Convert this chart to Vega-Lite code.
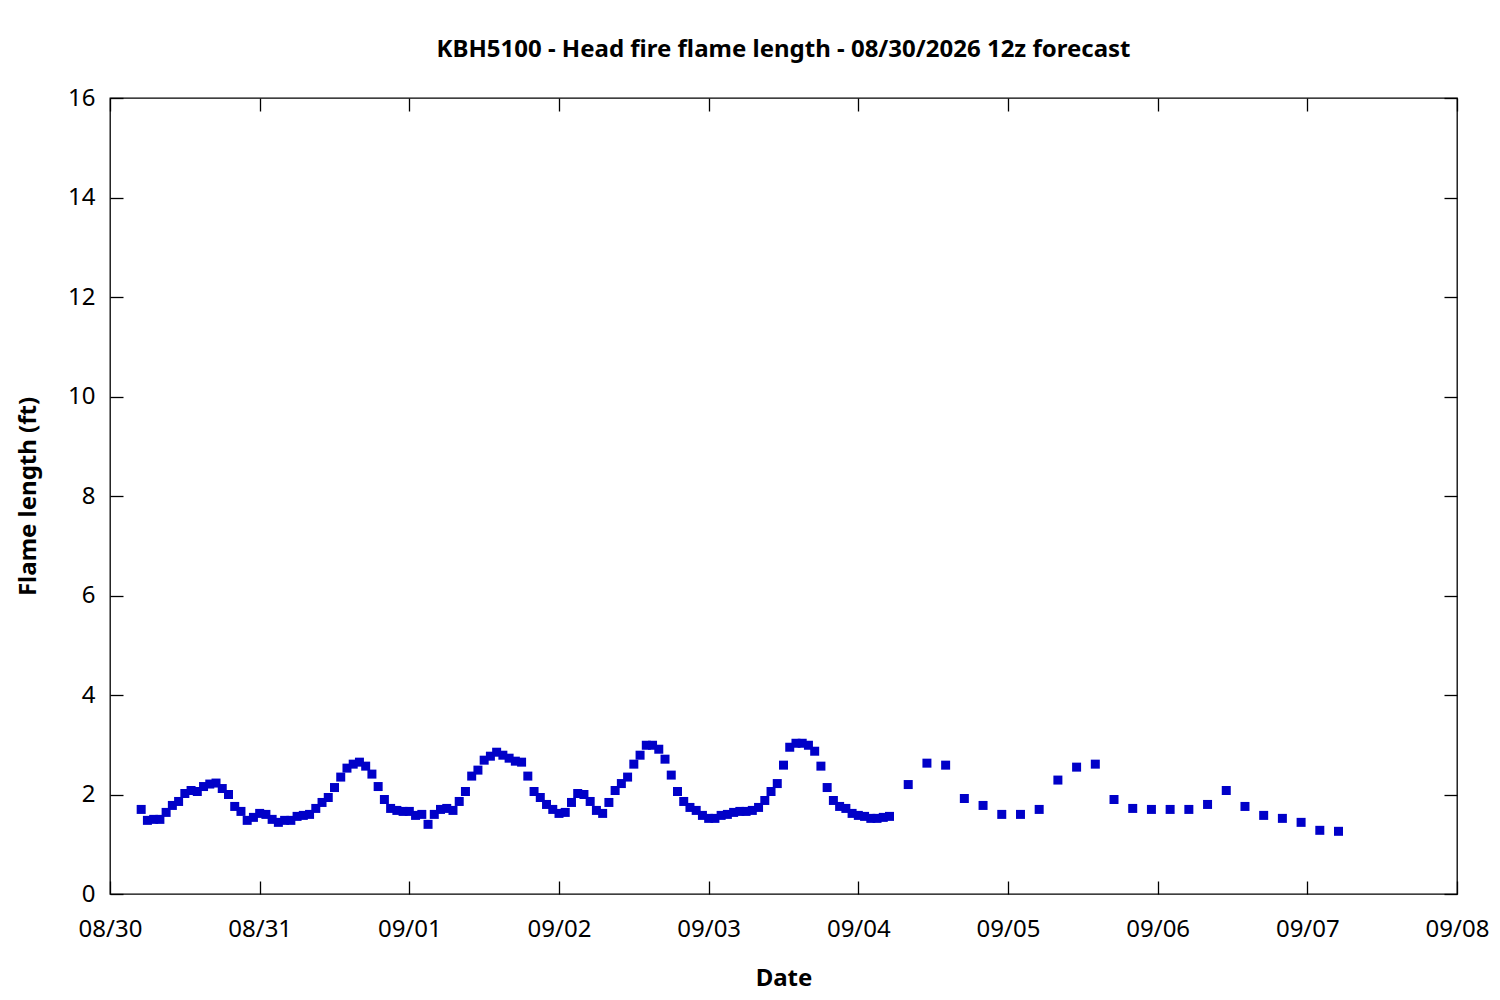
{
  "$schema": "https://vega.github.io/schema/vega-lite/v6.json",
  "autosize": {"type": "none"},
  "width": 1347,
  "height": 796,
  "padding": {"left": 110, "top": 98, "right": 43, "bottom": 106},
  "background": "white",
  "title": {
    "text": "KBH5100 - Head fire flame length - 08/30/2026 12z forecast",
    "anchor": "middle",
    "font": "Noto Sans",
    "fontSize": 24,
    "fontWeight": "bold",
    "color": "black",
    "offset": 24
  },
  "config": {
    "view": {"stroke": "black", "strokeWidth": 1.3},
    "axis": {
      "font": "Noto Sans",
      "labelFont": "Noto Sans",
      "titleFont": "Noto Sans",
      "labelFontSize": 24,
      "titleFontSize": 24,
      "titleFontWeight": "bold",
      "labelColor": "black",
      "titleColor": "black",
      "domain": false,
      "grid": false,
      "tickColor": "black",
      "tickWidth": 1.3,
      "tickSize": -13
    }
  },
  "data": {
    "values": [
      {"t": "2026-08-30T05:00:00", "fl": 1.70},
      {"t": "2026-08-30T06:00:00", "fl": 1.48},
      {"t": "2026-08-30T07:00:00", "fl": 1.50},
      {"t": "2026-08-30T08:00:00", "fl": 1.50},
      {"t": "2026-08-30T09:00:00", "fl": 1.64},
      {"t": "2026-08-30T10:00:00", "fl": 1.78},
      {"t": "2026-08-30T11:00:00", "fl": 1.86},
      {"t": "2026-08-30T12:00:00", "fl": 2.02},
      {"t": "2026-08-30T13:00:00", "fl": 2.08},
      {"t": "2026-08-30T14:00:00", "fl": 2.06},
      {"t": "2026-08-30T15:00:00", "fl": 2.16},
      {"t": "2026-08-30T16:00:00", "fl": 2.21},
      {"t": "2026-08-30T17:00:00", "fl": 2.23},
      {"t": "2026-08-30T18:00:00", "fl": 2.12},
      {"t": "2026-08-30T19:00:00", "fl": 2.00},
      {"t": "2026-08-30T20:00:00", "fl": 1.76},
      {"t": "2026-08-30T21:00:00", "fl": 1.66},
      {"t": "2026-08-30T22:00:00", "fl": 1.48},
      {"t": "2026-08-30T23:00:00", "fl": 1.54},
      {"t": "2026-08-31T00:00:00", "fl": 1.62},
      {"t": "2026-08-31T01:00:00", "fl": 1.60},
      {"t": "2026-08-31T02:00:00", "fl": 1.50},
      {"t": "2026-08-31T03:00:00", "fl": 1.44},
      {"t": "2026-08-31T04:00:00", "fl": 1.48},
      {"t": "2026-08-31T05:00:00", "fl": 1.48},
      {"t": "2026-08-31T06:00:00", "fl": 1.56},
      {"t": "2026-08-31T07:00:00", "fl": 1.58},
      {"t": "2026-08-31T08:00:00", "fl": 1.60},
      {"t": "2026-08-31T09:00:00", "fl": 1.72},
      {"t": "2026-08-31T10:00:00", "fl": 1.84},
      {"t": "2026-08-31T11:00:00", "fl": 1.94},
      {"t": "2026-08-31T12:00:00", "fl": 2.14},
      {"t": "2026-08-31T13:00:00", "fl": 2.35},
      {"t": "2026-08-31T14:00:00", "fl": 2.53},
      {"t": "2026-08-31T15:00:00", "fl": 2.61},
      {"t": "2026-08-31T16:00:00", "fl": 2.65},
      {"t": "2026-08-31T17:00:00", "fl": 2.57},
      {"t": "2026-08-31T18:00:00", "fl": 2.41},
      {"t": "2026-08-31T19:00:00", "fl": 2.16},
      {"t": "2026-08-31T20:00:00", "fl": 1.90},
      {"t": "2026-08-31T21:00:00", "fl": 1.72},
      {"t": "2026-08-31T22:00:00", "fl": 1.68},
      {"t": "2026-08-31T23:00:00", "fl": 1.66},
      {"t": "2026-09-01T00:00:00", "fl": 1.66},
      {"t": "2026-09-01T01:00:00", "fl": 1.58},
      {"t": "2026-09-01T02:00:00", "fl": 1.60},
      {"t": "2026-09-01T03:00:00", "fl": 1.40},
      {"t": "2026-09-01T04:00:00", "fl": 1.60},
      {"t": "2026-09-01T05:00:00", "fl": 1.70},
      {"t": "2026-09-01T06:00:00", "fl": 1.72},
      {"t": "2026-09-01T07:00:00", "fl": 1.68},
      {"t": "2026-09-01T08:00:00", "fl": 1.86},
      {"t": "2026-09-01T09:00:00", "fl": 2.06},
      {"t": "2026-09-01T10:00:00", "fl": 2.37},
      {"t": "2026-09-01T11:00:00", "fl": 2.49},
      {"t": "2026-09-01T12:00:00", "fl": 2.69},
      {"t": "2026-09-01T13:00:00", "fl": 2.77},
      {"t": "2026-09-01T14:00:00", "fl": 2.85},
      {"t": "2026-09-01T15:00:00", "fl": 2.79},
      {"t": "2026-09-01T16:00:00", "fl": 2.73},
      {"t": "2026-09-01T17:00:00", "fl": 2.67},
      {"t": "2026-09-01T18:00:00", "fl": 2.65},
      {"t": "2026-09-01T19:00:00", "fl": 2.37},
      {"t": "2026-09-01T20:00:00", "fl": 2.06},
      {"t": "2026-09-01T21:00:00", "fl": 1.94},
      {"t": "2026-09-01T22:00:00", "fl": 1.80},
      {"t": "2026-09-01T23:00:00", "fl": 1.70},
      {"t": "2026-09-02T00:00:00", "fl": 1.62},
      {"t": "2026-09-02T01:00:00", "fl": 1.64},
      {"t": "2026-09-02T02:00:00", "fl": 1.84},
      {"t": "2026-09-02T03:00:00", "fl": 2.02},
      {"t": "2026-09-02T04:00:00", "fl": 2.00},
      {"t": "2026-09-02T05:00:00", "fl": 1.86},
      {"t": "2026-09-02T06:00:00", "fl": 1.68},
      {"t": "2026-09-02T07:00:00", "fl": 1.62},
      {"t": "2026-09-02T08:00:00", "fl": 1.84},
      {"t": "2026-09-02T09:00:00", "fl": 2.08},
      {"t": "2026-09-02T10:00:00", "fl": 2.22},
      {"t": "2026-09-02T11:00:00", "fl": 2.35},
      {"t": "2026-09-02T12:00:00", "fl": 2.61},
      {"t": "2026-09-02T13:00:00", "fl": 2.79},
      {"t": "2026-09-02T14:00:00", "fl": 2.99},
      {"t": "2026-09-02T15:00:00", "fl": 2.99},
      {"t": "2026-09-02T16:00:00", "fl": 2.91},
      {"t": "2026-09-02T17:00:00", "fl": 2.71},
      {"t": "2026-09-02T18:00:00", "fl": 2.39},
      {"t": "2026-09-02T19:00:00", "fl": 2.06},
      {"t": "2026-09-02T20:00:00", "fl": 1.86},
      {"t": "2026-09-02T21:00:00", "fl": 1.74},
      {"t": "2026-09-02T22:00:00", "fl": 1.68},
      {"t": "2026-09-02T23:00:00", "fl": 1.58},
      {"t": "2026-09-03T00:00:00", "fl": 1.52},
      {"t": "2026-09-03T01:00:00", "fl": 1.52},
      {"t": "2026-09-03T02:00:00", "fl": 1.58},
      {"t": "2026-09-03T03:00:00", "fl": 1.60},
      {"t": "2026-09-03T04:00:00", "fl": 1.64},
      {"t": "2026-09-03T05:00:00", "fl": 1.66},
      {"t": "2026-09-03T06:00:00", "fl": 1.66},
      {"t": "2026-09-03T07:00:00", "fl": 1.68},
      {"t": "2026-09-03T08:00:00", "fl": 1.74},
      {"t": "2026-09-03T09:00:00", "fl": 1.88},
      {"t": "2026-09-03T10:00:00", "fl": 2.06},
      {"t": "2026-09-03T11:00:00", "fl": 2.22},
      {"t": "2026-09-03T12:00:00", "fl": 2.59},
      {"t": "2026-09-03T13:00:00", "fl": 2.95},
      {"t": "2026-09-03T14:00:00", "fl": 3.03},
      {"t": "2026-09-03T15:00:00", "fl": 3.03},
      {"t": "2026-09-03T16:00:00", "fl": 2.99},
      {"t": "2026-09-03T17:00:00", "fl": 2.87},
      {"t": "2026-09-03T18:00:00", "fl": 2.57},
      {"t": "2026-09-03T19:00:00", "fl": 2.14},
      {"t": "2026-09-03T20:00:00", "fl": 1.88},
      {"t": "2026-09-03T21:00:00", "fl": 1.76},
      {"t": "2026-09-03T22:00:00", "fl": 1.72},
      {"t": "2026-09-03T23:00:00", "fl": 1.62},
      {"t": "2026-09-04T00:00:00", "fl": 1.58},
      {"t": "2026-09-04T01:00:00", "fl": 1.56},
      {"t": "2026-09-04T02:00:00", "fl": 1.52},
      {"t": "2026-09-04T03:00:00", "fl": 1.52},
      {"t": "2026-09-04T04:00:00", "fl": 1.54},
      {"t": "2026-09-04T05:00:00", "fl": 1.56},
      {"t": "2026-09-04T08:00:00", "fl": 2.20},
      {"t": "2026-09-04T11:00:00", "fl": 2.63},
      {"t": "2026-09-04T14:00:00", "fl": 2.59},
      {"t": "2026-09-04T17:00:00", "fl": 1.92},
      {"t": "2026-09-04T20:00:00", "fl": 1.78},
      {"t": "2026-09-04T23:00:00", "fl": 1.60},
      {"t": "2026-09-05T02:00:00", "fl": 1.60},
      {"t": "2026-09-05T05:00:00", "fl": 1.70},
      {"t": "2026-09-05T08:00:00", "fl": 2.29},
      {"t": "2026-09-05T11:00:00", "fl": 2.55},
      {"t": "2026-09-05T14:00:00", "fl": 2.61},
      {"t": "2026-09-05T17:00:00", "fl": 1.90},
      {"t": "2026-09-05T20:00:00", "fl": 1.72},
      {"t": "2026-09-05T23:00:00", "fl": 1.70},
      {"t": "2026-09-06T02:00:00", "fl": 1.70},
      {"t": "2026-09-06T05:00:00", "fl": 1.70},
      {"t": "2026-09-06T08:00:00", "fl": 1.80},
      {"t": "2026-09-06T11:00:00", "fl": 2.08},
      {"t": "2026-09-06T14:00:00", "fl": 1.76},
      {"t": "2026-09-06T17:00:00", "fl": 1.58},
      {"t": "2026-09-06T20:00:00", "fl": 1.52},
      {"t": "2026-09-06T23:00:00", "fl": 1.44},
      {"t": "2026-09-07T02:00:00", "fl": 1.28},
      {"t": "2026-09-07T05:00:00", "fl": 1.26}
    ]
  },
  "layer": [
    {
      "mark": {"type": "point", "shape": "square", "filled": true, "size": 81, "color": "#0000c8", "opacity": 1},
      "encoding": {
        "x": {
          "field": "t",
          "type": "temporal",
          "scale": {"domain": [{"year": 2026, "month": 8, "date": 30}, {"year": 2026, "month": 9, "date": 8}]},
          "axis": {
            "title": "Date",
            "format": "%m/%d",
            "tickCount": {"interval": "day", "step": 1},
            "labelPadding": 36,
            "labelFlush": false,
            "titlePadding": 25
          }
        },
        "y": {
          "field": "fl",
          "type": "quantitative",
          "scale": {"domain": [0, 16], "nice": false, "zero": true},
          "axis": {
            "title": "Flame length (ft)",
            "values": [0, 2, 4, 6, 8, 10, 12, 14, 16],
            "labelPadding": 28,
            "titlePadding": 27
          }
        }
      }
    },
    {
      "mark": {"type": "point", "opacity": 0},
      "encoding": {
        "x": {
          "field": "t",
          "type": "temporal",
          "axis": {"labels": false, "title": null, "tickCount": {"interval": "day", "step": 1}}
        },
        "y": {
          "field": "fl",
          "type": "quantitative",
          "axis": {"labels": false, "title": null, "values": [0, 2, 4, 6, 8, 10, 12, 14, 16]}
        }
      }
    }
  ],
  "resolve": {"axis": {"x": "independent", "y": "independent"}}
}
